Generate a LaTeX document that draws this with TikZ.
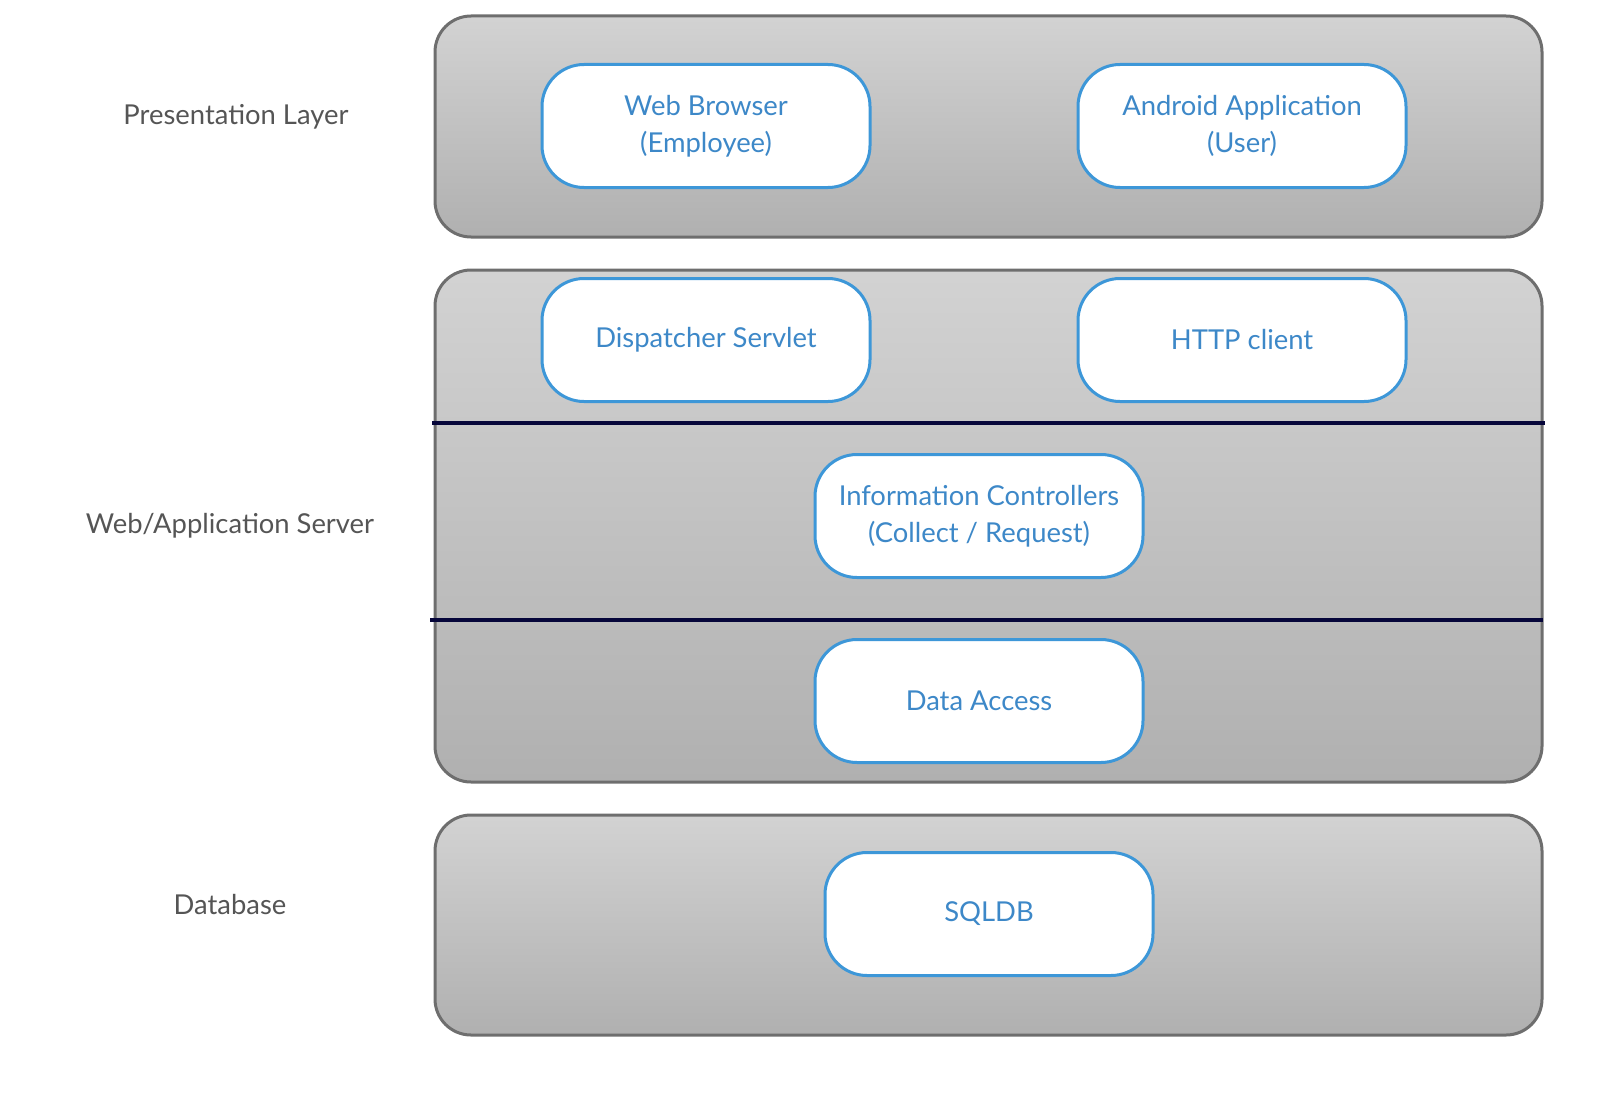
\documentclass[tikz,border=0pt]{standalone}
\usepackage{fontspec}
\setmainfont{Lato}
\usepackage{xcolor}
\usepackage{tikz}
\definecolor{boxblue}{HTML}{3D97D8}
\definecolor{txtblue}{HTML}{3D88C8}
\definecolor{lblgray}{HTML}{555555}
\definecolor{rimgray}{HTML}{6E6E6E}
\definecolor{navy}{HTML}{06063A}
\begin{document}
\begin{tikzpicture}[x=0.5pt,y=-0.5pt,
layer/.style={draw=rimgray,line width=1.5pt,rounded corners=18pt,top color=gray!35!white,bottom color=gray!62!white},
comp/.style={draw=boxblue,fill=white,line width=1.5pt,rounded corners=21pt,minimum width=164pt,minimum height=61.5pt,align=center,text=txtblue,font=\fontsize{13.7}{18.5}\selectfont},
lbl/.style={text=lblgray,font=\fontsize{13.7}{16}\selectfont},
divider/.style={draw=navy,line width=2pt}]
\useasboundingbox (0,0) rectangle (1610,1102);
% layers
\foreach \t/\b in {16/237,270/782,815/1035} {
   \path[layer] (435,\t) rectangle (1542,\b);
}
\draw[divider] (432,423) -- (1545,423);
\draw[divider] (430,620) -- (1543,620);
% layer names
\node[lbl] (presentation) at (236,117) {Presentation Layer};
\node[lbl] (webapp) at (230,526) {Web/Application Server};
\node[lbl] (database) at (230,905) {Database};
% components
\node[comp] (browser) at (706,126) {Web Browser\\(Employee)};
\node[comp] (android) at (1242,126) {Android Application\\(User)};
\node[comp] (dispatcher) at (706,340) {Dispatcher Servlet};
\node[comp] (httpclient) at (1242,340) {HTTP client};
\node[comp] (controllers) at (979,516) {Information Controllers\\(Collect / Request)};
\node[comp] (dataaccess) at (979,701) {Data Access};
\node[comp] (sqldb) at (989,914) {SQLDB};
\end{tikzpicture}
\end{document}
